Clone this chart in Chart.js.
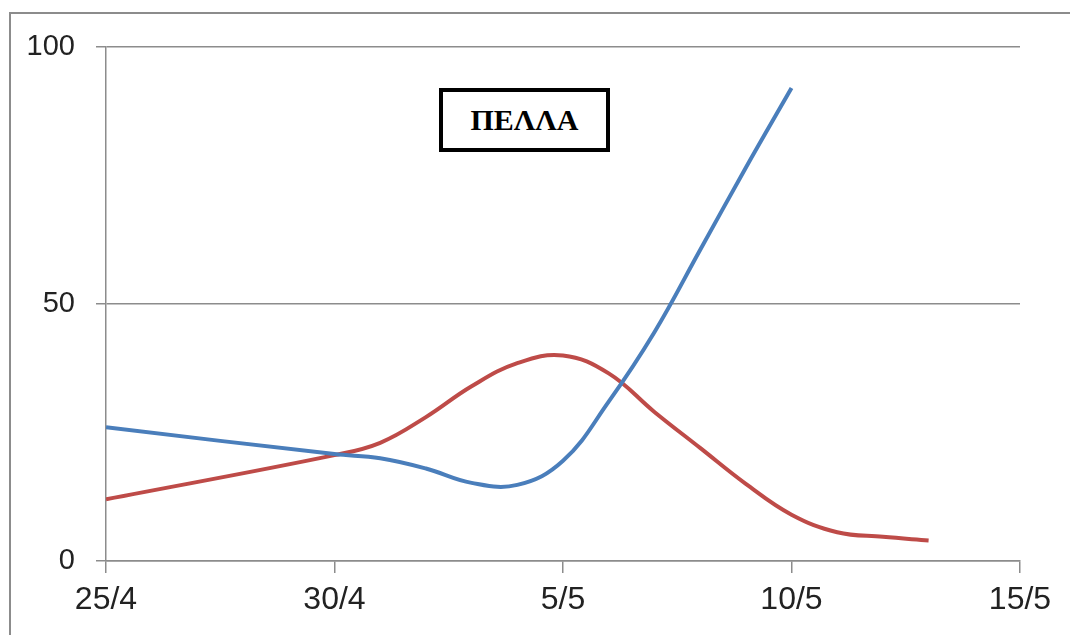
<!DOCTYPE html>
<html>
<head>
<meta charset="utf-8">
<script src="https://cdn.jsdelivr.net/npm/chart.js@4.4.0/dist/chart.umd.min.js"></script>
<style>
  html, body { margin: 0; padding: 0; background: #fff; overflow: hidden; }
  #wrap { position: relative; width: 1070px; height: 635px; }
  #titleBox {
    position: absolute; left: 439px; top: 88px; width: 163px; height: 56px;
    border: 4px solid #000; background: #fff;
    font-family: "Liberation Serif", "Times New Roman", serif; font-weight: bold; font-size: 30px;
    display: flex; align-items: center; justify-content: center;
  }
</style>
</head>
<body>
<div id="wrap">
  <canvas id="grafica" width="1070" height="635"></canvas>
  <div id="titleBox">ΠΕΛΛΑ</div>
</div>
<script>
// --- Datos ---
const blueDates = ['25/4', '30/4', '1/5', '2/5', '3/5', '4/5', '5/5', '6/5', '7/5', '8/5', '9/5', '10/5'];
const blueValues = [26, 20.8, 20, 18, 15.2, 14.8, 19.5, 31, 44.5, 60.5, 76.5, 92];

const redDates = ['25/4', '30/4', '1/5', '2/5', '3/5', '4/5', '5/5', '6/5', '7/5', '8/5', '9/5', '10/5', '11/5', '12/5', '13/5'];
const redValues = [12, 20.6, 23, 28, 34, 38.5, 40, 36.5, 29, 22, 15, 9, 5.6, 4.7, 4];

const xTickLabels = ['25/4', '30/4', '5/5', '10/5', '15/5'];
const yTickValues = [0, 50, 100];

// día -> número de días desde 25/4
const diaDesde = (s) => {
    const [d, m] = s.split('/').map(Number);
    return (Date.UTC(2020, m - 1, d) - Date.UTC(2020, 3, 25)) / 86400000;
};
const aPuntos = (fechas, valores) => fechas.map((f, i) => ({ x: diaDesde(f), y: valores[i] }));

const xMin = diaDesde(xTickLabels[0]);
const xMax = diaDesde(xTickLabels[xTickLabels.length - 1]);

const fontEje = "'Liberation Sans', Arial, sans-serif";

// marco exterior gris
const marco = {
    id: 'marco',
    beforeDraw(chart) {
        const ctx = chart.ctx;
        ctx.save();
        ctx.fillStyle = '#fff';
        ctx.fillRect(0, 0, chart.width, chart.height);
        ctx.strokeStyle = '#8c8c8c';
        ctx.lineWidth = 2;
        ctx.strokeRect(10, 13, 1200, 800);
        ctx.restore();
    }
};

new Chart(document.getElementById('grafica'), {
    type: 'line',
    data: {
        datasets: [
            {
                data: aPuntos(blueDates, blueValues),
                borderColor: '#4a7ebb',
                borderWidth: 4,
                pointRadius: 0,
                tension: 0.4
            },
            {
                data: aPuntos(redDates, redValues),
                borderColor: '#be4b48',
                borderWidth: 4,
                pointRadius: 0,
                tension: 0.4
            }
        ]
    },
    options: {
        responsive: false,
        animation: false,
        events: [],
        layout: { padding: { top: 47, right: 50, left: 0, bottom: 0 } },
        plugins: { legend: { display: false }, tooltip: { enabled: false } },
        scales: {
            x: {
                type: 'linear',
                min: xMin,
                max: xMax,
                afterBuildTicks: (scale) => {
                    scale.ticks = xTickLabels.map(l => ({ value: diaDesde(l) }));
                },
                afterFit: (scale) => { scale.height = 74; },
                ticks: {
                    callback: (v, i) => xTickLabels[i],
                    color: '#222',
                    font: { size: 32, family: fontEje },
                    padding: 8,
                    maxRotation: 0,
                    autoSkip: false
                },
                grid: {
                    drawOnChartArea: false,
                    drawTicks: true,
                    tickLength: 12,
                    color: '#8c8c8c',
                    lineWidth: 1.5
                },
                border: { display: true, color: '#8c8c8c', width: 1.5 }
            },
            y: {
                min: 0,
                max: 100,
                afterBuildTicks: (scale) => {
                    scale.ticks = yTickValues.map(v => ({ value: v }));
                },
                afterFit: (scale) => { scale.width = 106; },
                ticks: {
                    color: '#222',
                    font: { size: 29, family: fontEje },
                    padding: 21
                },
                grid: {
                    drawTicks: true,
                    tickLength: 10,
                    color: '#8c8c8c',
                    lineWidth: 1.5
                },
                border: { display: true, color: '#8c8c8c', width: 1.5 }
            }
        }
    },
    plugins: [marco]
});
</script>
</body>
</html>
